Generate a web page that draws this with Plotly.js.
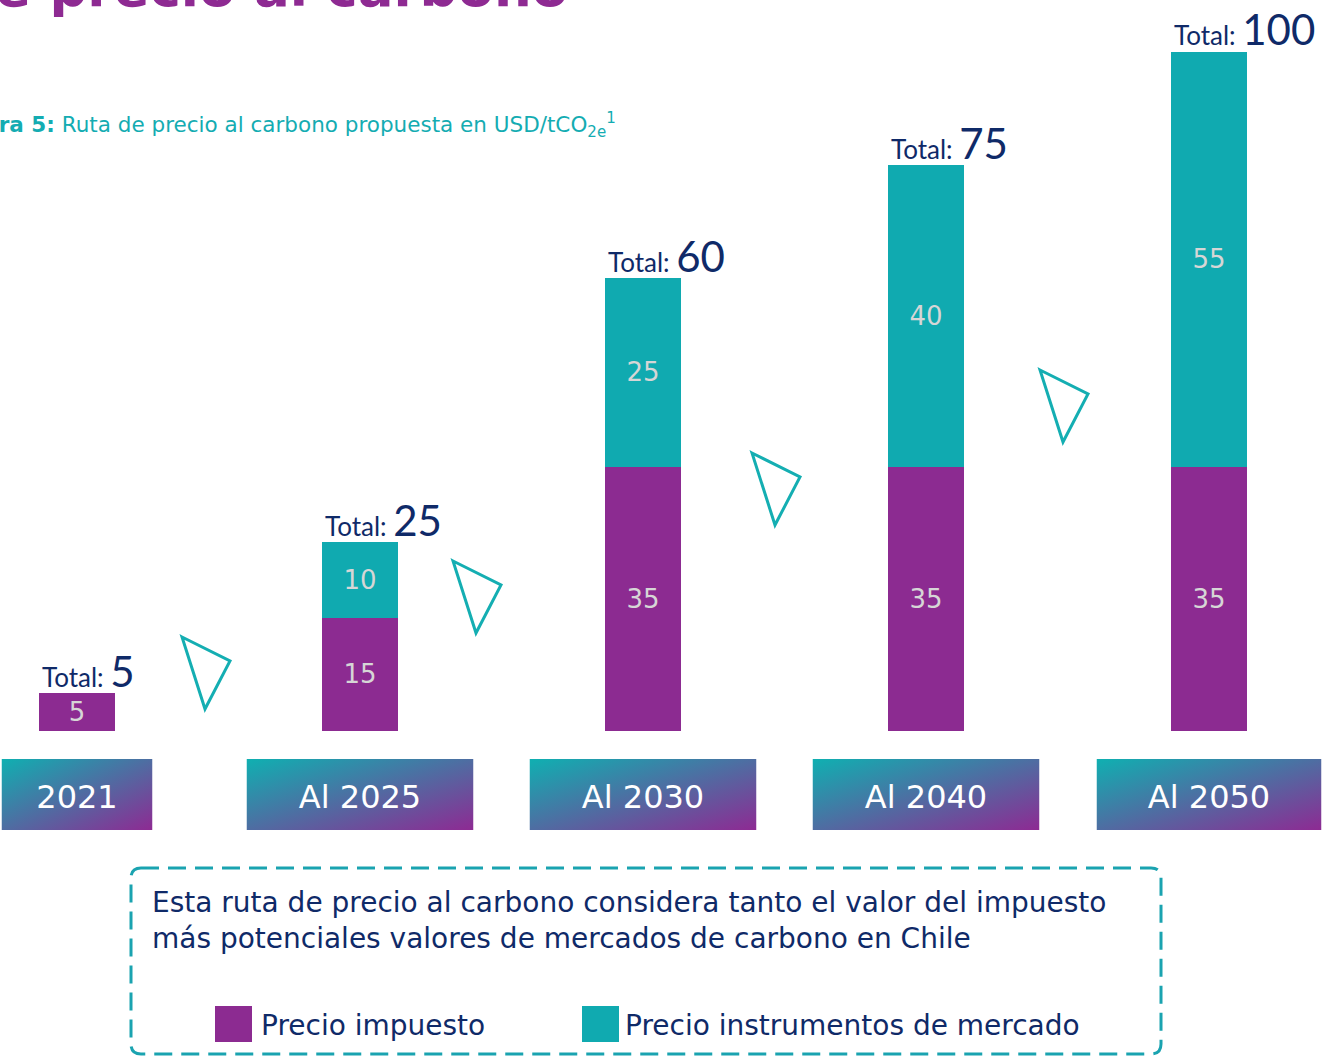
<!DOCTYPE html>
<html>
<head>
<meta charset="utf-8">
<script src="https://cdn.plot.ly/plotly-3.0.1.min.js"></script>
<style>html,body{margin:0;padding:0;background:#fff;}#chart{width:1327px;height:1056px;}</style>
</head>
<body>
<div id="chart"></div>
<script>
// ---- data ----
const categories = ['2021', 'Al 2025', 'Al 2030', 'Al 2040', 'Al 2050'];
const precioImpuesto = [5, 15, 35, 35, 35];
const precioMercado = [null, 10, 25, 40, 55];
const totals = [5, 25, 60, 75, 100];
const seriesNames = ['Precio impuesto', 'Precio instrumentos de mercado'];
const titleText = 'Ruta de precio al carbono';
const subtitleText = '<b>Figura 5:</b> Ruta de precio al carbono propuesta en USD/tCO<sub>2e</sub><sup>1</sup>';
const noteLines = ['Esta ruta de precio al carbono considera tanto el valor del impuesto',
                   'más potenciales valores de mercados de carbono en Chile'];

// ---- styles ----
const W = 1327, H = 1056, PLOT_H = 731;
const PURPLE = '#8c2b91', TEAL = '#10aab0', NAVY = '#0f2a68', SEG_TXT = '#d6d6d6';
const MAIN_FONT = 'DejaVu Sans, Verdana, sans-serif';
const TOTAL_FONT = 'Lato, Open Sans, sans-serif';
const px = x => x / W;
const py = y => 1 - y / PLOT_H;

const traces = [
  {type: 'bar', name: seriesNames[0], x: categories, y: precioImpuesto,
   marker: {color: PURPLE}, texttemplate: '%{y}',
   textposition: 'inside', insidetextanchor: 'middle', constraintext: 'none',
   textfont: {family: MAIN_FONT, size: 26, color: SEG_TXT}, hoverinfo: 'skip'},
  {type: 'bar', name: seriesNames[1], x: categories, y: precioMercado,
   marker: {color: TEAL}, texttemplate: '%{y}',
   textposition: 'inside', insidetextanchor: 'middle', constraintext: 'none',
   textfont: {family: MAIN_FONT, size: 26, color: SEG_TXT}, hoverinfo: 'skip'}
];

const annotations = [];
categories.forEach((c, i) => {
  const top = (precioImpuesto[i] || 0) + (precioMercado[i] || 0);
  annotations.push({xref: 'x', yref: 'y', x: i, y: top, xanchor: 'left', yanchor: 'bottom',
    xshift: -37, yshift: -5, showarrow: false, align: 'left',
    text: 'Total: <span style="font-size:42px">' + totals[i] + '</span>',
    font: {family: TOTAL_FONT, size: 26, color: NAVY}});
});
// title (cut at top) and subtitle
annotations.push({xref: 'paper', yref: 'paper', x: px(570), y: py(20), xanchor: 'right', yanchor: 'bottom',
  showarrow: false, text: '<b>' + titleText + '</b>', font: {family: MAIN_FONT, size: 53, color: '#8e2a92'}});
annotations.push({xref: 'paper', yref: 'paper', x: px(618), y: py(125), xanchor: 'right', yanchor: 'middle',
  showarrow: false, text: subtitleText, font: {family: MAIN_FONT, size: 21.5, color: '#14acb2'}});
// note text
annotations.push({xref: 'paper', yref: 'paper', x: px(150), y: py(884), xanchor: 'left', yanchor: 'top',
  showarrow: false, align: 'left', text: noteLines.join('<br>'), font: {family: MAIN_FONT, size: 28, color: NAVY}});
// legend labels
annotations.push({xref: 'paper', yref: 'paper', x: px(259), y: py(1025), xanchor: 'left', yanchor: 'middle',
  showarrow: false, text: seriesNames[0], font: {family: MAIN_FONT, size: 28, color: NAVY}});
annotations.push({xref: 'paper', yref: 'paper', x: px(623), y: py(1025), xanchor: 'left', yanchor: 'middle',
  showarrow: false, text: seriesNames[1], font: {family: MAIN_FONT, size: 28, color: NAVY}});

const shapes = [];
// decorative triangles
const triOrigins = [[182, 637], [453, 561], [752, 453], [1040, 370]];
triOrigins.forEach(([ox, oy]) => {
  const pts = [[ox, oy], [ox + 48, oy + 24], [ox + 23, oy + 72]];
  shapes.push({type: 'path', xref: 'paper', yref: 'paper',
    path: 'M' + pts.map(p => px(p[0]) + ',' + py(p[1])).join(' L') + ' Z',
    line: {color: '#14aeb2', width: 3}, fillcolor: 'rgba(0,0,0,0)'});
});
// dashed rounded box
(function () {
  const x0 = 131, x1 = 1161, y0 = 868, y1 = 1054, r = 10;
  const P = (x, y) => px(x) + ',' + py(y);
  const path = 'M' + P(x0 + r, y0) + ' L' + P(x1 - r, y0) + ' Q' + P(x1, y0) + ' ' + P(x1, y0 + r) +
    ' L' + P(x1, y1 - r) + ' Q' + P(x1, y1) + ' ' + P(x1 - r, y1) + ' L' + P(x0 + r, y1) +
    ' Q' + P(x0, y1) + ' ' + P(x0, y1 - r) + ' L' + P(x0, y0 + r) + ' Q' + P(x0, y0) + ' ' + P(x0 + r, y0) + ' Z';
  shapes.push({type: 'path', xref: 'paper', yref: 'paper', path: path,
    line: {color: '#1aa3b0', width: 3, dash: '18px,9px'}, fillcolor: 'rgba(0,0,0,0)'});
})();
// legend squares
[[215, PURPLE], [582, TEAL]].forEach(([x, col]) => {
  shapes.push({type: 'rect', xref: 'paper', yref: 'paper', x0: px(x), x1: px(x + 37), y0: py(1006), y1: py(1042),
    line: {width: 0}, fillcolor: col});
});

// gradient category boxes
const gradSvg = '<svg xmlns="http://www.w3.org/2000/svg" width="200" height="60" viewBox="0 0 200 60" preserveAspectRatio="none">' +
  '<defs><linearGradient id="g" x1="0" y1="0" x2="1" y2="1"><stop offset="0" stop-color="#0fb0b1"/>' +
  '<stop offset="1" stop-color="#8e2a93"/></linearGradient></defs><rect width="200" height="60" fill="url(#g)"/></svg>';
const gradSrc = 'data:image/svg+xml;base64,' + btoa(gradSvg);
const boxWidths = [151, 227, 227, 227, 225];
const unitPx = 283;
const images = categories.map((c, i) => ({
  source: gradSrc, xref: 'x', yref: 'paper', x: i, y: py(759), xanchor: 'center', yanchor: 'top',
  sizex: boxWidths[i] / unitPx, sizey: 71 / PLOT_H, sizing: 'stretch', layer: 'below'
}));

const layout = {
  width: W, height: H, margin: {l: 0, r: 0, t: 0, b: H - PLOT_H, pad: 0},
  paper_bgcolor: '#ffffff', plot_bgcolor: 'rgba(0,0,0,0)',
  barmode: 'stack', bargap: 1 - 76 / unitPx, showlegend: false,
  xaxis: {type: 'category', range: [-77 / unitPx, -77 / unitPx + W / unitPx], showgrid: false, zeroline: false,
    showline: false, ticks: '', tickvals: categories, ticktext: categories, ticklabelstandoff: 44,
    tickfont: {family: MAIN_FONT, size: 32, color: '#ffffff'}, fixedrange: true},
  yaxis: {range: [0, PLOT_H / 7.55], visible: false, fixedrange: true},
  annotations: annotations, shapes: shapes, images: images
};

Plotly.newPlot('chart', traces, layout, {displayModeBar: false, staticPlot: true});
</script>
</body>
</html>
